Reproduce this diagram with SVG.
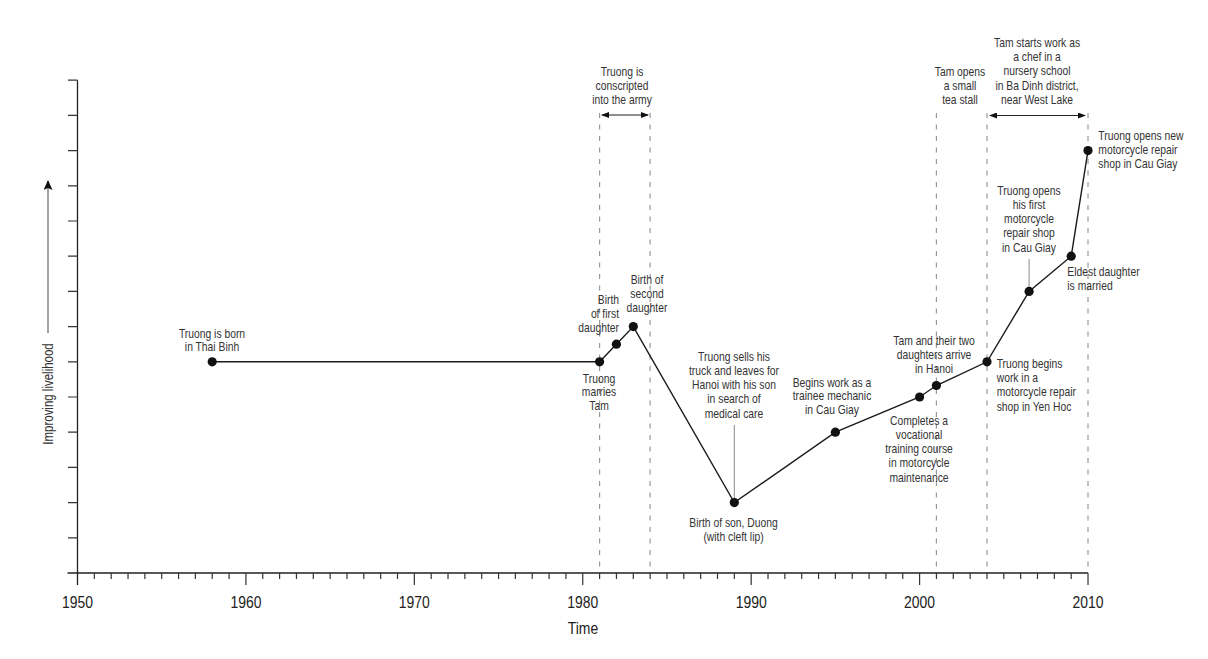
<svg xmlns="http://www.w3.org/2000/svg" width="1208" height="659" viewBox="0 0 1208 659">
<style>
text{font-family:"Liberation Sans",Arial,sans-serif;fill:#333}
.lb{font-size:12.6px}
.m{text-anchor:middle}
.s{text-anchor:start}
.e{text-anchor:end}
.yr{font-size:17px;text-anchor:middle;fill:#222}
.ax{stroke:#222;stroke-width:1.3;fill:none}
.tk{stroke:#333;stroke-width:1.2;fill:none}
.dash{stroke:#9a9a9a;stroke-width:1.2;stroke-dasharray:5 6.5;fill:none}
.lead{stroke:#8a8a8a;stroke-width:1;fill:none}
.pt{fill:#111}
.conn{stroke:#1a1a1a;stroke-width:1.4;fill:none}
.dbl{stroke:#222;stroke-width:1.1;fill:none}
</style>
<defs>
<marker id="ah" markerWidth="8" markerHeight="6" refX="7" refY="3" orient="auto-start-reverse" markerUnits="userSpaceOnUse">
<path d="M0,0 L8,3 L0,6 z" fill="#111"/>
</marker>
<marker id="ahb" markerWidth="10" markerHeight="9" refX="9" refY="4.5" orient="auto" markerUnits="userSpaceOnUse">
<path d="M0,0 L10,4.5 L0,9 L2,4.5 z" fill="#111"/>
</marker>
</defs>
<rect width="1208" height="659" fill="#fff"/>

<g id="axes">
<path class="ax" d="M77.5,80.2 V585 M67.5,573 H1088"/>
<path class="tk" d="M68,537.8 H77.5 M68,502.6 H77.5 M68,467.4 H77.5 M68,432.2 H77.5 M68,397 H77.5 M68,361.8 H77.5 M68,326.6 H77.5 M68,291.4 H77.5 M68,256.2 H77.5 M68,221 H77.5 M68,185.8 H77.5 M68,150.6 H77.5 M68,115.4 H77.5 M68,80.2 H77.5"/>
<path class="tk" d="M94.34,573 v6 M111.18,573 v6 M128.03,573 v6 M144.87,573 v6 M161.71,573 v6 M178.55,573 v6 M195.39,573 v6 M212.24,573 v6 M229.08,573 v6 M262.76,573 v6 M279.6,573 v6 M296.45,573 v6 M313.29,573 v6 M330.13,573 v6 M346.97,573 v6 M363.81,573 v6 M380.66,573 v6 M397.5,573 v6 M431.18,573 v6 M448.02,573 v6 M464.87,573 v6 M481.71,573 v6 M498.55,573 v6 M515.39,573 v6 M532.23,573 v6 M549.08,573 v6 M565.92,573 v6 M599.6,573 v6 M616.44,573 v6 M633.29,573 v6 M650.13,573 v6 M666.97,573 v6 M683.81,573 v6 M700.65,573 v6 M717.5,573 v6 M734.34,573 v6 M768.02,573 v6 M784.86,573 v6 M801.71,573 v6 M818.55,573 v6 M835.39,573 v6 M852.23,573 v6 M869.07,573 v6 M885.92,573 v6 M902.76,573 v6 M936.44,573 v6 M953.28,573 v6 M970.13,573 v6 M986.97,573 v6 M1003.81,573 v6 M1020.65,573 v6 M1037.49,573 v6 M1054.34,573 v6 M1071.18,573 v6"/>
<path class="tk" d="M245.92,573 v12 M414.34,573 v12 M582.76,573 v12 M751.18,573 v12 M919.6,573 v12 M1088.02,573 v12"/>
<text class="yr" transform="translate(77.5,608) scale(0.82,1)">1950</text>
<text class="yr" transform="translate(245.9,608) scale(0.82,1)">1960</text>
<text class="yr" transform="translate(414.3,608) scale(0.82,1)">1970</text>
<text class="yr" transform="translate(582.8,608) scale(0.82,1)">1980</text>
<text class="yr" transform="translate(751.2,608) scale(0.82,1)">1990</text>
<text class="yr" transform="translate(919.6,608) scale(0.82,1)">2000</text>
<text class="yr" transform="translate(1088,608) scale(0.82,1)">2010</text>
<text class="yr" transform="translate(583,633.5) scale(0.82,1)">Time</text>
<line x1="48" y1="333" x2="48" y2="181" stroke="#666" stroke-width="1.2" marker-end="url(#ahb)"/>
<text transform="translate(53,394) rotate(-90) scale(0.82,1)" style="font-size:14px;text-anchor:middle;fill:#333">Improving livelihood</text>
</g>

<g id="periods">
<path class="dash" d="M599.6,113 V573 M650.1,113 V573 M936.4,113 V573 M987,113 V573 M1088,113 V573"/>
<line class="dbl" x1="602" y1="115" x2="648" y2="115" marker-start="url(#ah)" marker-end="url(#ah)"/>
<line class="dbl" x1="990" y1="115.5" x2="1085" y2="115.5" marker-start="url(#ah)" marker-end="url(#ah)"/>
<text class="lb m" transform="translate(622,75.8) scale(0.82,1)">Truong is<tspan x="0" dy="14">conscripted</tspan><tspan x="0" dy="14">into the army</tspan></text>
<text class="lb m" transform="translate(960,75.5) scale(0.82,1)">Tam opens<tspan x="0" dy="14.3">a small</tspan><tspan x="0" dy="14.3">tea stall</tspan></text>
<text class="lb m" transform="translate(1037,46.8) scale(0.82,1)">Tam starts work as<tspan x="0" dy="14.3">a chef in a</tspan><tspan x="0" dy="14.3">nursery school</tspan><tspan x="0" dy="14.3">in Ba Dinh district,</tspan><tspan x="0" dy="14.3">near West Lake</tspan></text>
</g>

<g id="connectors">
<polyline class="conn" points="212.2,361.8 599.6,361.8 616.4,344.2 633.3,326.6 734.3,502.6 835.4,432.2 919.6,397 936.4,385.5 987,361.8 1029.1,291.4 1071.2,256.2 1088,150.6"/>
<path class="lead" d="M734.3,425 V502 M1029.1,259 V291"/>
</g>

<g id="born">
<circle class="pt" cx="212.2" cy="361.8" r="4.6"/>
<text class="lb m" transform="translate(212,337.5) scale(0.82,1)">Truong is born<tspan x="0" dy="13.5">in Thai Binh</tspan></text>
</g>
<g id="married">
<circle class="pt" cx="599.6" cy="361.8" r="4.6"/>
<text class="lb m" transform="translate(599,382.5) scale(0.82,1)">Truong<tspan x="0" dy="14">marries</tspan><tspan x="0" dy="13.5">Tam</tspan></text>
</g>
<g id="daughter1">
<circle class="pt" cx="616.4" cy="344.2" r="4.6"/>
<text class="lb e" transform="translate(619,303.5) scale(0.82,1)">Birth<tspan x="0" dy="14.3">of first</tspan><tspan x="0" dy="14.3">daughter</tspan></text>
</g>
<g id="daughter2">
<circle class="pt" cx="633.3" cy="326.6" r="4.6"/>
<text class="lb m" transform="translate(647,283.5) scale(0.82,1)">Birth of<tspan x="0" dy="14.3">second</tspan><tspan x="0" dy="14.3">daughter</tspan></text>
</g>
<g id="son">
<circle class="pt" cx="734.3" cy="502.6" r="4.6"/>
<text class="lb m" transform="translate(734,360.5) scale(0.82,1)">Truong sells his<tspan x="0" dy="14.3">truck and leaves for</tspan><tspan x="0" dy="14.3">Hanoi with his son</tspan><tspan x="0" dy="14.3">in search of</tspan><tspan x="0" dy="14.3">medical care</tspan></text>
<text class="lb m" transform="translate(733.5,527) scale(0.82,1)">Birth of son, Duong<tspan x="0" dy="14">(with cleft lip)</tspan></text>
</g>
<g id="trainee">
<circle class="pt" cx="835.4" cy="432.2" r="4.6"/>
<text class="lb m" transform="translate(832,386.5) scale(0.82,1)">Begins work as a<tspan x="0" dy="14">trainee mechanic</tspan><tspan x="0" dy="14">in Cau Giay</tspan></text>
</g>
<g id="course">
<circle class="pt" cx="919.6" cy="397" r="4.6"/>
<text class="lb m" transform="translate(919,424.5) scale(0.82,1)">Completes a<tspan x="0" dy="14.3">vocational</tspan><tspan x="0" dy="14.3">training course</tspan><tspan x="0" dy="14.3">in motorcycle</tspan><tspan x="0" dy="14.3">maintenance</tspan></text>
</g>
<g id="arrive">
<circle class="pt" cx="936.4" cy="385.5" r="4.6"/>
<text class="lb m" transform="translate(934,344.5) scale(0.82,1)">Tam and their two<tspan x="0" dy="14.3">daughters arrive</tspan><tspan x="0" dy="14.3">in Hanoi</tspan></text>
</g>
<g id="yenhoc">
<circle class="pt" cx="987" cy="361.8" r="4.6"/>
<text class="lb s" transform="translate(996.7,367.8) scale(0.82,1)">Truong begins<tspan x="0" dy="14.3">work in a</tspan><tspan x="0" dy="14.3">motorcycle repair</tspan><tspan x="0" dy="14.3">shop in Yen Hoc</tspan></text>
</g>
<g id="firstshop">
<circle class="pt" cx="1029.1" cy="291.4" r="4.6"/>
<text class="lb m" transform="translate(1029,194.5) scale(0.82,1)">Truong opens<tspan x="0" dy="14.3">his first</tspan><tspan x="0" dy="14.3">motorcycle</tspan><tspan x="0" dy="14.3">repair shop</tspan><tspan x="0" dy="14.3">in Cau Giay</tspan></text>
</g>
<g id="eldest">
<circle class="pt" cx="1071.2" cy="256.2" r="4.6"/>
<text class="lb s" transform="translate(1067.3,275.5) scale(0.82,1)">Eldest daughter<tspan x="0" dy="14.3">is married</tspan></text>
</g>
<g id="newshop">
<circle class="pt" cx="1088" cy="150.6" r="4.6"/>
<text class="lb s" transform="translate(1098.3,139.5) scale(0.82,1)">Truong opens new<tspan x="0" dy="14.3">motorcycle repair</tspan><tspan x="0" dy="14.3">shop in Cau Giay</tspan></text>
</g>
</svg>
